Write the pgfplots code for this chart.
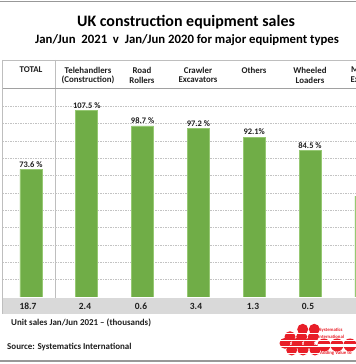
\documentclass[border=0pt]{standalone}
\usepackage{pgfplots}
\pgfplotsset{compat=1.18}
\usepackage{fontspec}
\setmainfont{Carlito}
\definecolor{barg}{RGB}{112,173,71}
\definecolor{bare}{RGB}{150,200,115}
\definecolor{band}{RGB}{217,217,217}
\definecolor{lin}{RGB}{190,190,190}
\definecolor{grd}{RGB}{195,195,195}
\definecolor{txt}{RGB}{30,30,30}
\definecolor{logored}{RGB}{232,30,40}
\begin{document}
\begin{tikzpicture}[x=1bp,y=1bp]
\path[use as bounding box] (0,0) rectangle (356,364);
\begin{scope}
\clip (0,0) rectangle (356,364);
% outer frame lines
\draw[lin!80!black, line width=1.2bp] (0,362.8) -- (356,362.8);
\draw[lin!80!black, line width=1.2bp] (0,3) -- (356,3);
% band
\fill[band] (2.7,50) rectangle (356,66);
% table lines
\draw[lin, line width=0.8bp] (2.7,304) -- (356,304);
\draw[lin, line width=0.8bp] (2.7,304) -- (2.7,50);
\draw[lin, line width=0.8bp] (55,304) -- (55,66);
% title
\node[font=\fontsize{16}{18}\selectfont\bfseries, text=black] at (186,342) {UK construction equipment sales};
\node[font=\fontsize{12.8}{14}\selectfont\bfseries, text=black] at (187,324) {Jan/Jun\ \ 2021\ \ v\ \ Jan/Jun 2020 for major equipment types};
% headers
\begin{scope}[every node/.style={font=\fontsize{8.9}{10}\selectfont\bfseries, text=txt, inner sep=0pt}]
\node at (31,294) {TOTAL};
\node at (88,294) {Telehandlers};
\node at (88,284) {(Construction)};
\node at (142,294) {Road};
\node at (142,284) {Rollers};
\node at (198,294) {Crawler};
\node at (198,284) {Excavators};
\node at (254,294) {Others};
\node at (310,294) {Wheeled};
\node at (310,284) {Loaders};
\node at (370,294) {Mini/Midi};
\node at (370,284) {Excavators};
\end{scope}
\begin{scope}[every node/.style={font=\fontsize{9.5}{10}\selectfont\bfseries, text=txt, inner sep=0pt}]
% band numbers
\node at (28,57.5) {18.7};
\node at (85,57.5) {2.4};
\node at (141,57.5) {0.6};
\node at (196,57.5) {3.4};
\node at (253,57.5) {1.3};
\node at (308,57.5) {0.5};
\node at (366,57.5) {1.1};
\end{scope}
\node[anchor=west, inner sep=0pt, font=\fontsize{9}{10}\selectfont\bfseries, text=txt] at (11,41) {Unit sales Jan/Jun 2021 -- (thousands)};
\node[anchor=west, inner sep=0pt, font=\fontsize{9}{10}\selectfont\bfseries, text=txt] at (7,17) {Source: Systematics International};
% logo
\begin{scope}
\foreach \x/\y/\r in {302.7/34.7/5.5, 314.3/34.7/5.5, 290/27.3/5.5, 301.7/27.3/5.5, 313.3/27.3/5.5, 285/20.7/5.5, 297/20.7/5.5, 309/20.7/5.5, 324/19/6.5, 337/19/6.5, 350/19/6.5, 291.7/14/5.5, 303/14/5.5, 315/14/5.5}
  {\fill[logored] (\x,\y) circle (\r);}
\foreach \y in {31, 24, 17.5, 11}
  {\draw[white, line width=0.9bp] (278,\y) -- (356,\y);}
\draw[white, line width=1.2bp] (318,19) -- (356,19);
\node[font=\fontsize{4.8}{5}\selectfont\bfseries, text=logored, inner sep=0pt] at (331,34) {Systematics};
\node[font=\fontsize{4.8}{5}\selectfont\bfseries, text=logored, inner sep=0pt, anchor=west] at (318,27.5) {International};
\node[font=\fontsize{4.8}{5}\selectfont\bfseries, text=logored, inner sep=0pt, anchor=west] at (320,10.5) {Adding Value to};
\end{scope}
\begin{axis}[
  at={(2.7bp,67bp)}, anchor=south west, scale only axis,
  width=353.3bp, height=208bp,
  xmin=-0.507, xmax=5.824, ymin=0, ymax=120,
  axis line style={draw=none},
  xtick=\empty, ytick={10,20,...,110}, yticklabels={}, major tick length=0pt,
  ymajorgrids, grid style={grd, line width=0.7bp, dash pattern=on 1.5bp off 1bp},
  ybar, bar width=22bp,
  nodes near coords={\pgfplotspointmeta}, point meta=explicit symbolic,
  nodes near coords style={font=\fontsize{8.5}{10}\selectfont\bfseries, text=txt, inner sep=2bp},
]
\addplot[fill=barg, draw=bare, line width=0.6bp] coordinates {
(0,73.6) [73.6 \%]
(1,107.5) [107.5 \%]
(2,98.7) [98.7 \%]
(3,97.2) [97.2 \%]
(4,92.1) [92.1\%]
(5,84.5) [84.5 \%]
(6,58.2) [58.2 \%]
};
\end{axis}
% header bottom line
\draw[lin!85!black, line width=1.5bp] (2.7,275.5) -- (356,275.5);
\end{scope}
\end{tikzpicture}
\end{document}
